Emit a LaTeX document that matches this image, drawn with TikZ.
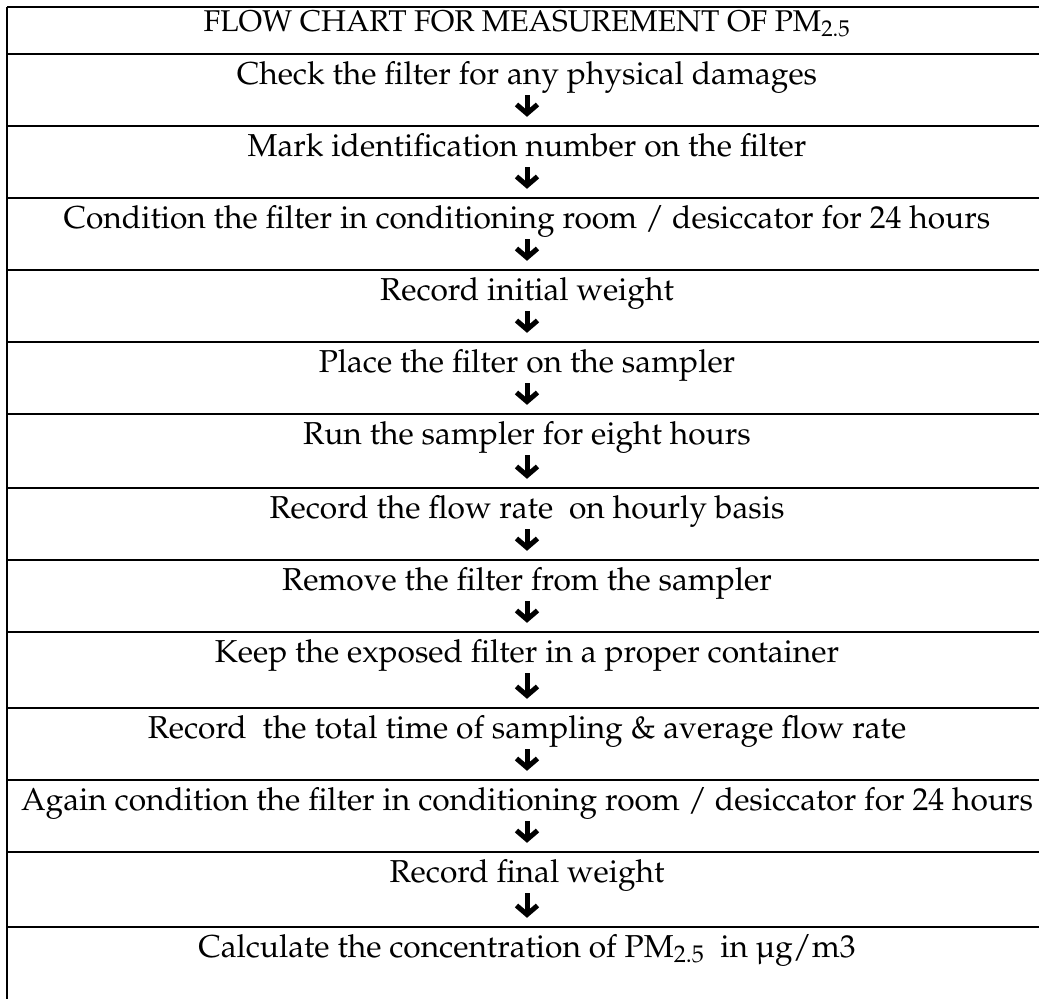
\documentclass[tikz,border=0pt]{standalone}
\usepackage[T1]{fontenc}
\usepackage{mathpazo}
\usetikzlibrary{arrows.meta}

\begin{document}
\begin{tikzpicture}[x=1pt,y=-1pt,
  stepbox/.style={anchor=base,inner sep=0pt,text height=22pt,text depth=7pt,font=\fontsize{31.7}{36}\selectfont},
  titlebox/.style={stepbox,font=\fontsize{30}{34}\selectfont},
  rule/.style={line width=2.2pt},
  flow/.style={line width=5pt,-{Straight Barb[length=9pt,width=21pt]},shorten <=4pt,shorten >=17pt}]
  \useasboundingbox (0,0) rectangle (1039,999);

  % table frame and row rules
  \draw[line width=1.2pt] (7,7) -- (1039,7);
  \draw[line width=1.5pt] (7,7) -- (7,999);
  \foreach \y in {54,126,198,270,342,414,488,560,632,708,780,852,927}
    \draw[rule] (7,\y) -- (1039,\y);

  \node[titlebox] (title) at (527,31) {FLOW CHART FOR MEASUREMENT OF PM\textsubscript{2.5}};
  \node[stepbox] (s1) at (527,84) {Check the filter for any physical damages};
  \node[stepbox] (s2) at (527,156) {Mark identification number on the filter};
  \node[stepbox] (s3) at (527,228) {Condition the filter in conditioning room / desiccator for 24 hours};
  \node[stepbox] (s4) at (527,300) {Record initial weight};
  \node[stepbox] (s5) at (527,372) {Place the filter on the sampler};
  \node[stepbox] (s6) at (527,444) {Run the sampler for eight hours};
  \node[stepbox] (s7) at (527,518) {Record the flow rate\ \ on hourly basis};
  \node[stepbox] (s8) at (527,590) {Remove the filter from the sampler};
  \node[stepbox] (s9) at (527,662) {Keep the exposed filter in a proper container};
  \node[stepbox] (s10) at (527,738) {Record\ \ the total time of sampling \& average flow rate};
  \node[stepbox] (s11) at (527,810) {Again condition the filter in conditioning room / desiccator for 24 hours};
  \node[stepbox] (s12) at (527,882) {Record final weight};
  \node[stepbox] (s13) at (527,957) {Calculate the concentration of PM\textsubscript{2.5}\ \ in \textmu g/m3};

  \path[flow]
    (s1) edge (s2)
    (s2) edge (s3)
    (s3) edge (s4)
    (s4) edge (s5)
    (s5) edge (s6)
    (s6) edge (s7)
    (s7) edge (s8)
    (s8) edge (s9)
    (s9) edge (s10)
    (s10) edge (s11)
    (s11) edge (s12)
    (s12) edge (s13)
    ;
\end{tikzpicture}
\end{document}
